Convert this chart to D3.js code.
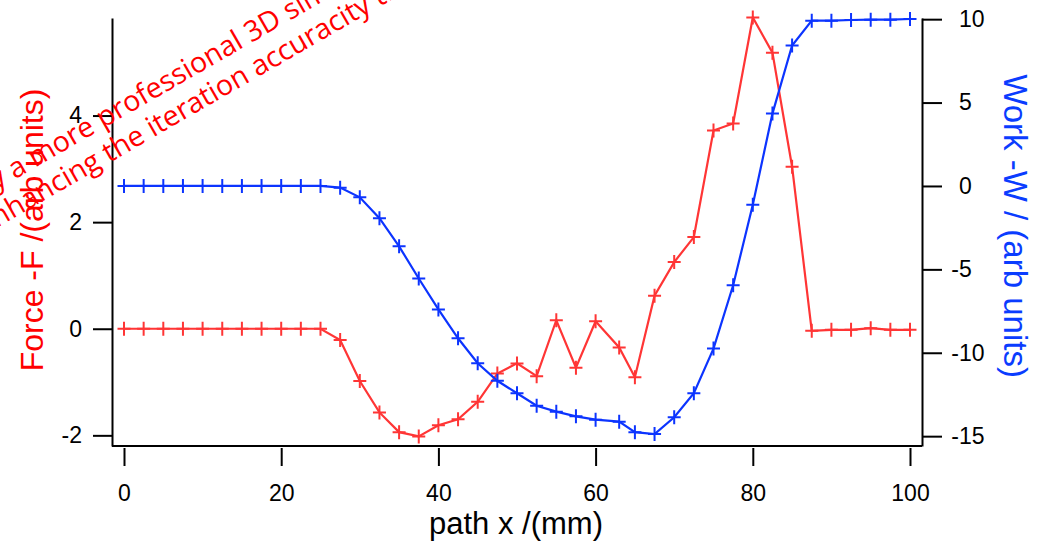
<!DOCTYPE html>
<html>
<head>
<meta charset="utf-8">
<script src="https://cdn.jsdelivr.net/npm/d3@7"></script>
<style>
	body { margin: 0; background: #fff; }
	svg { display: block; }
	text { font-family: 'Liberation Sans', Arial, sans-serif; }
</style>
</head>
<body>
<div class="container"></div>
<script>
// path positions (mm)
var pathX = [0, 2.5, 5, 7.5, 10, 12.5, 15, 17.5, 20, 22.5, 25, 27.5, 30, 32.5, 35, 37.5, 40,
	42.5, 45, 47.5, 50, 52.5, 55, 57.5, 60, 63, 65, 67.5, 70, 72.5, 75, 77.5, 80, 82.5, 85,
	87.5, 90, 92.5, 95, 97.5, 100];
// force -F (left axis)
var forceF = [0, 0, 0, 0, 0, 0, 0, 0, 0, 0, 0, -0.21, -0.98, -1.57, -1.94, -2.02, -1.81,
	-1.70, -1.37, -0.84, -0.65, -0.89, 0.16, -0.73, 0.14, -0.35, -0.91, 0.62, 1.25, 1.72, 3.72,
	3.85, 5.84, 5.18, 3.04, -0.04, -0.02, -0.02, 0.01, -0.02, -0.02];
// work -W (right axis)
var workW = [0, 0, 0, 0, 0, 0, 0, 0, 0, 0, 0, -0.1, -0.68, -1.93, -3.62, -5.55, -7.40,
	-9.13, -10.63, -11.68, -12.43, -13.18, -13.53, -13.81, -14.01, -14.13, -14.76, -14.87,
	-13.87, -12.42, -9.75, -5.95, -1.13, 4.34, 8.42, 9.91, 9.91, 9.95, 9.97, 9.97, 10.01];

var xTicks = [0, 20, 40, 60, 80, 100];
var leftTicks = [-2, 0, 2, 4];
var rightTicks = [-15, -10, -5, 0, 5, 10];
var noteLines = ['y a more professional 3D simulation', 'nhancing the iteration accuracity than'];

const WIDTH = 1040;
const HEIGHT = 545;
const LEFT = 112, RIGHT = 922, TOP = 18, BOTTOM = 446;
const RED = '#ff3535';
const BLUE = '#0c34ff';

var svg = d3.select('.container').append('svg')
	.attr('width', WIDTH)
	.attr('height', HEIGHT);

var xScale = d3.scaleLinear().domain([0, 100]).range([124, 910]);
var yLeft = d3.scaleLinear().domain([-2.2, 5.83]).range([BOTTOM, TOP]);
var yRight = d3.scaleLinear().domain([-15.59, 10.07]).range([BOTTOM, TOP]);

// plain hyphen for negatives, like the original
var plain = function(d) { return String(d); };

// bottom frame line
svg.append('line')
	.attr('x1', LEFT).attr('x2', RIGHT)
	.attr('y1', BOTTOM).attr('y2', BOTTOM)
	.attr('stroke', '#000').attr('stroke-width', 2);

// x axis, ticks stand off below the frame
var xAxis = svg.append('g')
	.attr('transform', 'translate(0,' + (BOTTOM + 2) + ')')
	.call(d3.axisBottom(xScale).tickValues(xTicks).tickFormat(plain).tickSize(18).tickPadding(19));
xAxis.select('.domain').remove();

var leftAxis = svg.append('g')
	.attr('transform', 'translate(' + LEFT + ',0)')
	.call(d3.axisLeft(yLeft).tickValues(leftTicks).tickFormat(plain)
		.tickSize(19).tickSizeOuter(0).tickPadding(11));

var rightAxis = svg.append('g')
	.attr('transform', 'translate(' + RIGHT + ',0)')
	.call(d3.axisRight(yRight).tickValues(rightTicks).tickFormat(plain)
		.tickSize(20).tickSizeOuter(0).tickPadding(17));
// digits line up, minus sign hangs out to the left
rightAxis.selectAll('.tick text')
	.attr('dx', function(d) { return d < 0 ? -7.7 : 0; });

svg.selectAll('.domain, .tick line')
	.attr('stroke', '#000')
	.attr('stroke-width', 2);
svg.selectAll('.tick text')
	.attr('fill', '#000')
	.style('font-size', '23px');

// axis titles
svg.append('text')
	.attr('x', 516).attr('y', 534)
	.attr('text-anchor', 'middle')
	.style('font-size', '31px')
	.text('path x /(mm)');

svg.append('text')
	.attr('transform', 'translate(43,230) rotate(-90)')
	.attr('text-anchor', 'middle')
	.attr('fill', '#ff0000')
	.style('font-size', '32px')
	.text('Force -F /(arb units)');

svg.append('text')
	.attr('transform', 'translate(1004,226) rotate(90)')
	.attr('text-anchor', 'middle')
	.attr('fill', '#0a3cff')
	.style('font-size', '33px')
	.text('Work -W / (arb units)');

var marker = 'M-6.5,0H6.5M0,-7V7';

var drawSeries = function(values, yScale, colour) {
	var pts = pathX.map(function(d, i) { return [d, values[i]]; });
	var line = d3.line()
		.x(function(d) { return xScale(d[0]); })
		.y(function(d) { return yScale(d[1]); });
	var g = svg.append('g');
	g.append('path')
		.datum(pts)
		.attr('d', line)
		.attr('fill', 'none')
		.attr('stroke', colour)
		.attr('stroke-width', 2.2);
	g.selectAll('.mark').data(pts).enter().append('path')
		.classed('mark', true)
		.attr('d', marker)
		.attr('transform', function(d) { return 'translate(' + xScale(d[0]) + ',' + yScale(d[1]) + ')'; })
		.attr('stroke', colour)
		.attr('stroke-width', 2);
}

drawSeries(forceF, yLeft, RED);
drawSeries(workW, yRight, BLUE);

// red note written across the top left corner
var notePos = [[-4, 190.3], [-3, 227.7]];
noteLines.forEach(function(t, i) {
	svg.append('text')
		.attr('transform', 'translate(' + notePos[i][0] + ',' + notePos[i][1] + ') rotate(-30)')
		.attr('fill', '#ff0000')
		.style('font-family', "'Open Sans', sans-serif")
		.style('font-size', '28.5px')
		.text(t);
});
</script>
</body>
</html>
